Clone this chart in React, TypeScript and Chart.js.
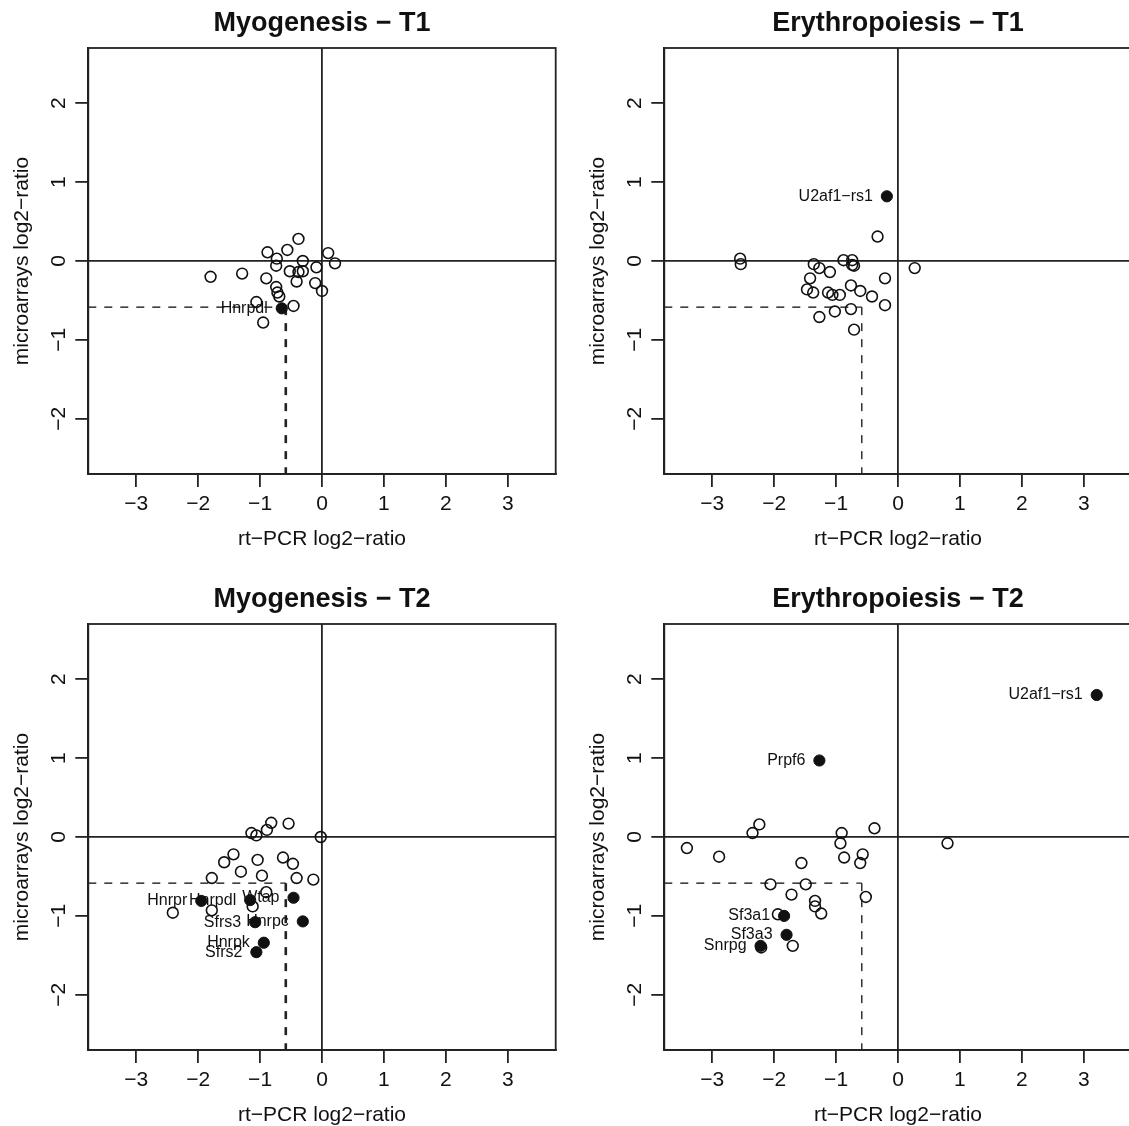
import React, { useEffect, useRef } from 'react';
import { Chart, registerables } from 'chart.js';

Chart.register(...registerables);

const FONT = '"Liberation Sans", Arial, Helvetica, sans-serif';
const INK = '#111111';
const LINE = '#222222';

// Axis settings
const X_TICKS = [-3, -2, -1, 0, 1, 2, 3];
const Y_TICKS = [-2, -1, 0, 1, 2];
const X_LIMIT = 3.775;
const Y_LIMIT = 2.7;
const THRESHOLD = -0.585;

// Myogenesis - T1
const myoT1Titles = 'Myogenesis − T1';
const myoT1OpenX = [-0.38, -0.88, -0.56, -0.73, -0.74, -0.31, 0.10, 0.21, -0.09, -0.52, -0.38, -0.31, -1.80, -1.29, -0.90, -0.41, -0.11, 0.00, -0.74, -0.72, -0.69, -1.06, -0.46, -0.95];
const myoT1OpenY = [0.28, 0.11, 0.14, 0.03, -0.06, 0.00, 0.10, -0.03, -0.08, -0.13, -0.14, -0.13, -0.20, -0.16, -0.22, -0.26, -0.28, -0.38, -0.33, -0.40, -0.45, -0.52, -0.57, -0.78];
const myoT1HitX = [-0.65];
const myoT1HitY = [-0.60];
const myoT1HitLabels = ['Hnrpdl'];

// Erythropoiesis - T1
const eryT1Title = 'Erythropoiesis − T1';
const eryT1OpenX = [-0.33, -1.36, -1.27, -1.10, -0.88, -0.74, -0.71, -0.74, 0.27, -1.42, -0.21, -1.47, -1.37, -1.13, -1.06, -0.94, -0.76, -0.61, -0.42, -0.21, -1.27, -1.02, -0.76, -0.71, -2.55, -2.54];
const eryT1OpenY = [0.31, -0.04, -0.09, -0.14, 0.01, 0.01, -0.06, -0.05, -0.09, -0.22, -0.22, -0.36, -0.40, -0.40, -0.43, -0.43, -0.31, -0.38, -0.45, -0.56, -0.71, -0.64, -0.61, -0.87, 0.03, -0.04];
const eryT1HitX = [-0.18];
const eryT1HitY = [0.82];
const eryT1HitLabels = ['U2af1−rs1'];

// Myogenesis - T2
const myoT2Title = 'Myogenesis − T2';
const myoT2OpenX = [-0.82, -0.54, -0.89, -1.14, -1.06, -0.02, -1.43, -1.58, -1.04, -0.63, -0.47, -1.31, -0.97, -1.78, -0.41, -0.14, -0.90, -1.78, -2.41, -1.12];
const myoT2OpenY = [0.18, 0.17, 0.09, 0.05, 0.02, 0.00, -0.22, -0.32, -0.29, -0.26, -0.34, -0.44, -0.49, -0.52, -0.52, -0.54, -0.70, -0.93, -0.96, -0.88];
const myoT2HitX = [-1.95, -1.16, -0.46, -1.08, -0.31, -0.94, -1.06];
const myoT2HitY = [-0.81, -0.80, -0.77, -1.08, -1.07, -1.34, -1.46];
const myoT2HitLabels = ['Hnrpr', 'Hnrpdl', 'Wtap', 'Sfrs3', 'Hnrpc', 'Hnrpk', 'Sfrs2'];

// Erythropoiesis - T2
const eryT2Title = 'Erythropoiesis − T2';
const eryT2OpenX = [-2.24, -2.35, -0.91, -0.38, -3.41, -2.89, -0.93, -0.87, -0.57, -0.61, -1.56, -2.06, -1.49, -1.72, -0.52, -1.34, -1.34, -1.24, -1.94, -1.70, -2.21, 0.80];
const eryT2OpenY = [0.16, 0.05, 0.05, 0.11, -0.14, -0.25, -0.08, -0.26, -0.22, -0.33, -0.33, -0.60, -0.60, -0.73, -0.76, -0.81, -0.88, -0.97, -0.98, -1.38, -1.40, -0.08];
const eryT2HitX = [3.21, -1.27, -1.84, -1.80, -2.22];
const eryT2HitY = [1.80, 0.97, -1.00, -1.24, -1.38];
const eryT2HitLabels = ['U2af1−rs1', 'Prpf6', 'Sf3a1', 'Sf3a3', 'Snrpg'];

const X_TITLE = 'rt−PCR log2−ratio';
const Y_TITLE = 'microarrays log2−ratio';

type PanelDef = {
  title: string;
  openX: number[];
  openY: number[];
  hitX: number[];
  hitY: number[];
  hitLabels: string[];
  vDashWidth: number;
  left: number;
  top: number;
};

const PANELS: PanelDef[] = [
  { title: myoT1Titles, openX: myoT1OpenX, openY: myoT1OpenY, hitX: myoT1HitX, hitY: myoT1HitY, hitLabels: myoT1HitLabels, vDashWidth: 2.6, left: 0, top: 0 },
  { title: eryT1Title, openX: eryT1OpenX, openY: eryT1OpenY, hitX: eryT1HitX, hitY: eryT1HitY, hitLabels: eryT1HitLabels, vDashWidth: 1.4, left: 576, top: 0 },
  { title: myoT2Title, openX: myoT2OpenX, openY: myoT2OpenY, hitX: myoT2HitX, hitY: myoT2HitY, hitLabels: myoT2HitLabels, vDashWidth: 2.6, left: 0, top: 576 },
  { title: eryT2Title, openX: eryT2OpenX, openY: eryT2OpenY, hitX: eryT2HitX, hitY: eryT2HitY, hitLabels: eryT2HitLabels, vDashWidth: 1.4, left: 576, top: 576 },
];

const zip = (xs: number[], ys: number[]) => xs.map((x, i) => ({ x, y: ys[i] }));
const fmtTick = (v: number | string) => String(v).replace('-', '−');
const zeroColor = (ctx: any) => (ctx.tick && ctx.tick.value === 0 ? LINE : 'rgba(0,0,0,0)');

const boxPlugin = {
  id: 'rBox',
  afterDraw(chart: any) {
    const { ctx, chartArea } = chart;
    const { left, top, right, bottom } = chartArea;
    ctx.save();
    ctx.strokeStyle = LINE;
    ctx.lineWidth = 1.8;
    ctx.strokeRect(left, top, right - left, bottom - top);
    ctx.restore();
  },
};

const labelPlugin = {
  id: 'hitLabels',
  afterDatasetsDraw(chart: any) {
    const { ctx } = chart;
    chart.data.datasets.forEach((ds: any, i: number) => {
      if (!ds.hitLabels) return;
      const meta = chart.getDatasetMeta(i);
      ctx.save();
      ctx.font = `16px ${FONT}`;
      ctx.fillStyle = INK;
      ctx.textAlign = 'right';
      ctx.textBaseline = 'middle';
      meta.data.forEach((el: any, j: number) => {
        ctx.fillText(ds.hitLabels[j], el.x - 14, el.y);
      });
      ctx.restore();
    });
  },
};

function makeConfig(p: PanelDef): any {
  const axisFont = { family: FONT, size: 21 };
  const grid = {
    color: zeroColor,
    lineWidth: 1.8,
    drawOnChartArea: true,
    drawTicks: true,
    tickLength: 13,
    tickColor: LINE,
    tickWidth: 1.8,
  };
  const border = { display: true, color: LINE, width: 1.8 };
  return {
    type: 'scatter',
    data: {
      datasets: [
        {
          data: [{ x: -X_LIMIT, y: THRESHOLD }, { x: THRESHOLD, y: THRESHOLD }],
          showLine: true,
          borderColor: LINE,
          borderWidth: 1.4,
          borderDash: [8, 8],
          pointRadius: 0,
          fill: false,
          order: 3,
        },
        {
          data: [{ x: THRESHOLD, y: THRESHOLD }, { x: THRESHOLD, y: -Y_LIMIT }],
          showLine: true,
          borderColor: LINE,
          borderWidth: p.vDashWidth,
          borderDash: [8, 8],
          pointRadius: 0,
          fill: false,
          order: 3,
        },
        {
          data: zip(p.openX, p.openY),
          pointStyle: 'circle',
          pointRadius: 5.4,
          borderWidth: 1.6,
          borderColor: INK,
          backgroundColor: 'rgba(0,0,0,0)',
          order: 2,
        },
        {
          data: zip(p.hitX, p.hitY),
          pointStyle: 'circle',
          pointRadius: 5.6,
          borderWidth: 1,
          borderColor: INK,
          backgroundColor: INK,
          hitLabels: p.hitLabels,
          order: 1,
        },
      ],
    },
    options: {
      animation: false,
      responsive: false,
      devicePixelRatio: 1,
      events: [],
      layout: { padding: { top: 0, left: 0, right: 20.3, bottom: 0 } },
      plugins: {
        legend: { display: false },
        tooltip: { enabled: false },
        title: {
          display: true,
          fullSize: false,
          text: p.title,
          color: INK,
          font: { family: FONT, size: 27, weight: 'bold' },
          padding: { top: 7.3, bottom: 8.3 },
        },
      },
      scales: {
        x: {
          type: 'linear',
          min: -X_LIMIT,
          max: X_LIMIT,
          afterBuildTicks: (s: any) => {
            s.ticks = X_TICKS.map((value) => ({ value }));
          },
          afterFit: (s: any) => {
            s.height = 102;
          },
          ticks: { callback: fmtTick, font: axisFont, color: INK, padding: 5, autoSkip: false, maxRotation: 0, minRotation: 0 },
          grid,
          border,
          title: { display: true, text: X_TITLE, color: INK, font: axisFont, padding: { top: 0, bottom: 24.4 } },
        },
        y: {
          type: 'linear',
          min: -Y_LIMIT,
          max: Y_LIMIT,
          afterBuildTicks: (s: any) => {
            s.ticks = Y_TICKS.map((value) => ({ value }));
          },
          afterFit: (s: any) => {
            s.width = 88.3;
          },
          ticks: { callback: fmtTick, font: axisFont, color: INK, padding: 3.8, autoSkip: false, minRotation: 90, maxRotation: 90, crossAlign: 'center' },
          grid,
          border,
          title: { display: true, text: Y_TITLE, color: INK, font: axisFont, padding: { top: 9.4, bottom: 0 } },
        },
      },
    },
    plugins: [boxPlugin, labelPlugin],
  };
}

function Panel({ def }: { def: PanelDef }) {
  const ref = useRef<HTMLCanvasElement | null>(null);
  useEffect(() => {
    if (!ref.current) return;
    const chart = new Chart(ref.current, makeConfig(def));
    return () => chart.destroy();
  }, [def]);
  return (
    <canvas
      ref={ref}
      width={576}
      height={576}
      style={{ position: 'absolute', left: def.left, top: def.top, width: 576, height: 576 }}
    />
  );
}

export default function App() {
  return (
    <div
      style={{
        position: 'fixed',
        left: 0,
        top: 0,
        width: 1129,
        height: 1126,
        overflow: 'hidden',
        background: '#ffffff',
      }}
    >
      {PANELS.map((p) => (
        <Panel key={p.title} def={p} />
      ))}
    </div>
  );
}
